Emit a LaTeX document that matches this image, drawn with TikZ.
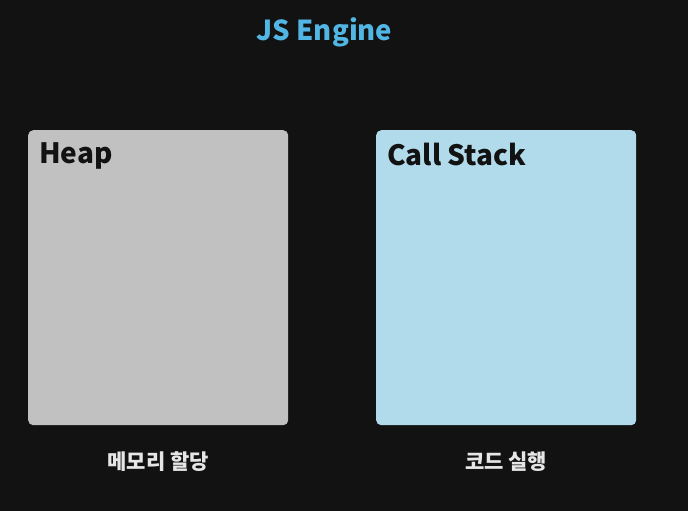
\documentclass[tikz,border=0pt]{standalone}
\usepackage{fontspec}
\setmainfont{Noto Sans CJK KR}
\usepackage{xcolor}
\definecolor{bgdark}{HTML}{121212}
\definecolor{heapgray}{HTML}{C2C1C1}
\definecolor{stackblue}{HTML}{B1DBEA}
\definecolor{titleblue}{HTML}{52B6E4}
\definecolor{notewhite}{HTML}{E6E6E6}
\usetikzlibrary{positioning}
\tikzset{
	memblock/.style={rounded corners=5pt, minimum width=260pt, minimum height=295pt, inner sep=0pt},
	blockname/.style={font=\bfseries\fontsize{28}{32}\selectfont, text=bgdark, inner sep=0pt, anchor=north west},
	blocknote/.style={font=\bfseries\fontsize{21}{24}\selectfont, text=notewhite, inner sep=0pt}
}
\begin{document}
\begin{tikzpicture}[x=1pt,y=-1pt]
	\fill[bgdark] (0,0) rectangle (688,511);
	\useasboundingbox (0,0) rectangle (688,511);

	\node[font=\bfseries\fontsize{27.5}{32}\selectfont, text=titleblue] (title) at (324.5,32) {JS Engine};

	\node[memblock, fill=heapgray, anchor=north west] (heap) at (28,130) {};
	\node[memblock, fill=stackblue, anchor=north west] (stack) at (376,130) {};

	\node[blockname] (heapname) at ([xshift=11pt,yshift=-12.5pt]heap.north west) {Heap};
	\node[blockname] (stackname) at ([xshift=11pt,yshift=-12.5pt]stack.north west) {Call Stack};

	\node[blocknote, below=26pt of heap] (heapnote) {메모리 할당};
	\node[blocknote, below=26pt of stack] (stacknote) {코드 실행};
\end{tikzpicture}
\end{document}
